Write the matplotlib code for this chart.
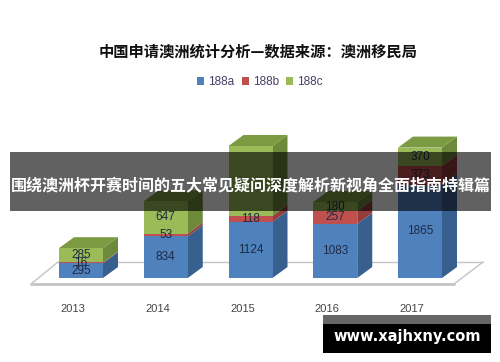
import matplotlib
matplotlib.use('Agg')
import matplotlib.pyplot as plt
from matplotlib.patches import Polygon, Rectangle

years = ['2013', '2014', '2015', '2016', '2017']
s188a = [295, 834, 1124, 1083, 1865]
s188b = [16, 53, 118, 257, 373]
s188c = [285, 647, 1398, 180, 370]
series = [('188a', s188a), ('188b', s188b), ('188c', s188c)]
title = '中国申请澳洲统计分析—数据来源：澳洲移民局'
banner = '围绕澳洲杯开赛时间的五大常见疑问深度解析新视角全面指南特辑篇'
site = 'www.xajhxny.com'
front = {'188a': '#4F81BD', '188b': '#C0504D', '188c': '#9BBB59'}
side = {'188a': '#37608F', '188b': '#943C3A', '188c': '#6C8A3A'}
topc = {'188a': '#3F6A9C', '188b': '#A44542', '188c': '#7C9A42'}

W, H = 500, 362
BASE = 278
fig = plt.figure(figsize=(W / 100, H / 100), dpi=100, facecolor='white')
ax = fig.add_axes([0, (H - BASE) / H, 1, BASE / H])
pitch = 84.75
first = 81
ax.set_xlim(-first / pitch, (W - first) / pitch)
per_px = 20.0
ax.set_ylim(0, BASE * per_px)
ax.patch.set_alpha(0)
for sp in ax.spines.values():
    sp.set_visible(False)
ax.set_yticks([])
shift = 8 / pitch
ax.set_xticks([i - shift for i in range(len(years))], years)
ax.tick_params(axis='x', length=0, pad=19, labelsize=8, labelcolor='#444444')
for t in ax.get_xticklabels():
    t.set_family('Liberation Sans')

bw = 44 / pitch
dx = 15 / pitch
dy = 11 * per_px

# floor
def floor(xs, ys, **kw):
    ax.plot(xs, ys, clip_on=False, solid_capstyle='round', **kw)
X = lambda p: (p - first) / pitch
Y = lambda p: (BASE - p) * per_px
floor([X(58), X(483)], [Y(262), Y(262)], color='#C4C4C4', lw=1.0, zorder=1)
floor([X(31), X(58)], [Y(284), Y(262)], color='#C4C4C4', lw=1.0, zorder=1)
floor([X(454), X(483)], [Y(284), Y(262)], color='#C4C4C4', lw=1.0, zorder=1)
floor([X(31), X(454)], [Y(284), Y(284)], color='#C4C4C4', lw=2.0, zorder=1)

bottoms = [0] * len(years)
for name, vals in series:
    ax.bar(range(len(years)), vals, bw, bottom=bottoms, color=front[name], label=name, zorder=3, lw=0)
    for i, v in enumerate(vals):
        l, r = i - bw / 2, i + bw / 2
        b, t = bottoms[i], bottoms[i] + v
        ax.add_patch(Polygon([(r, b), (r + dx, b + dy), (r + dx, t + dy), (r, t)], fc=side[name], lw=0, zorder=2))
        if name == '188c':
            ax.add_patch(Polygon([(l, t), (l + dx, t + dy), (r + dx, t + dy), (r, t)], fc=topc[name], lw=0, zorder=2))
        if not (name == '188c' and i == 2):
            ax.text(i, b + v / 2, str(v), ha='center', va='center', fontsize=8.5,
                    family='Liberation Sans', color='#1F2A44', zorder=5)
        bottoms[i] += v

leg = ax.legend(loc='center', bbox_to_anchor=(260 / W, (BASE - 82) / BASE), ncol=3, frameon=False,
                prop={'family': 'Liberation Sans', 'size': 8.5}, handlelength=0.6, handleheight=0.6,
                handletextpad=0.35, columnspacing=0.6)
for t in leg.get_texts():
    t.set_color('#4A3D66')

fig.text(258 / W, 1 - 51.5 / H, title, ha='center', va='center', fontsize=11, fontweight='bold',
         family=['Noto Sans CJK SC', 'DejaVu Sans'], color='#111111')

fig.patches.append(Rectangle((10 / W, 1 - 211 / H), 481 / W, 59 / H, transform=fig.transFigure,
                             fc='black', alpha=0.62, lw=0, zorder=6))
fig.text(250.5 / W, 1 - 185.5 / H, banner, ha='center', va='center', fontsize=11.5, fontweight='bold',
         family=['Noto Sans CJK SC', 'DejaVu Sans'], color='white', zorder=7)

fig.patches.append(Rectangle((323 / W, 1 - 324 / H), 168 / W, 9 / H, transform=fig.transFigure,
                             fc='#666666', lw=0, zorder=6))
fig.patches.append(Rectangle((323 / W, 1 - 353 / H), 168 / W, 29 / H, transform=fig.transFigure,
                             fc='black', lw=0, zorder=6))
fig.text(407 / W, 1 - 337 / H, site, ha='center', va='center', fontsize=10.5, fontweight='bold',
         family='DejaVu Sans', color='white', zorder=7)

fig.savefig('out.png', dpi=100)
